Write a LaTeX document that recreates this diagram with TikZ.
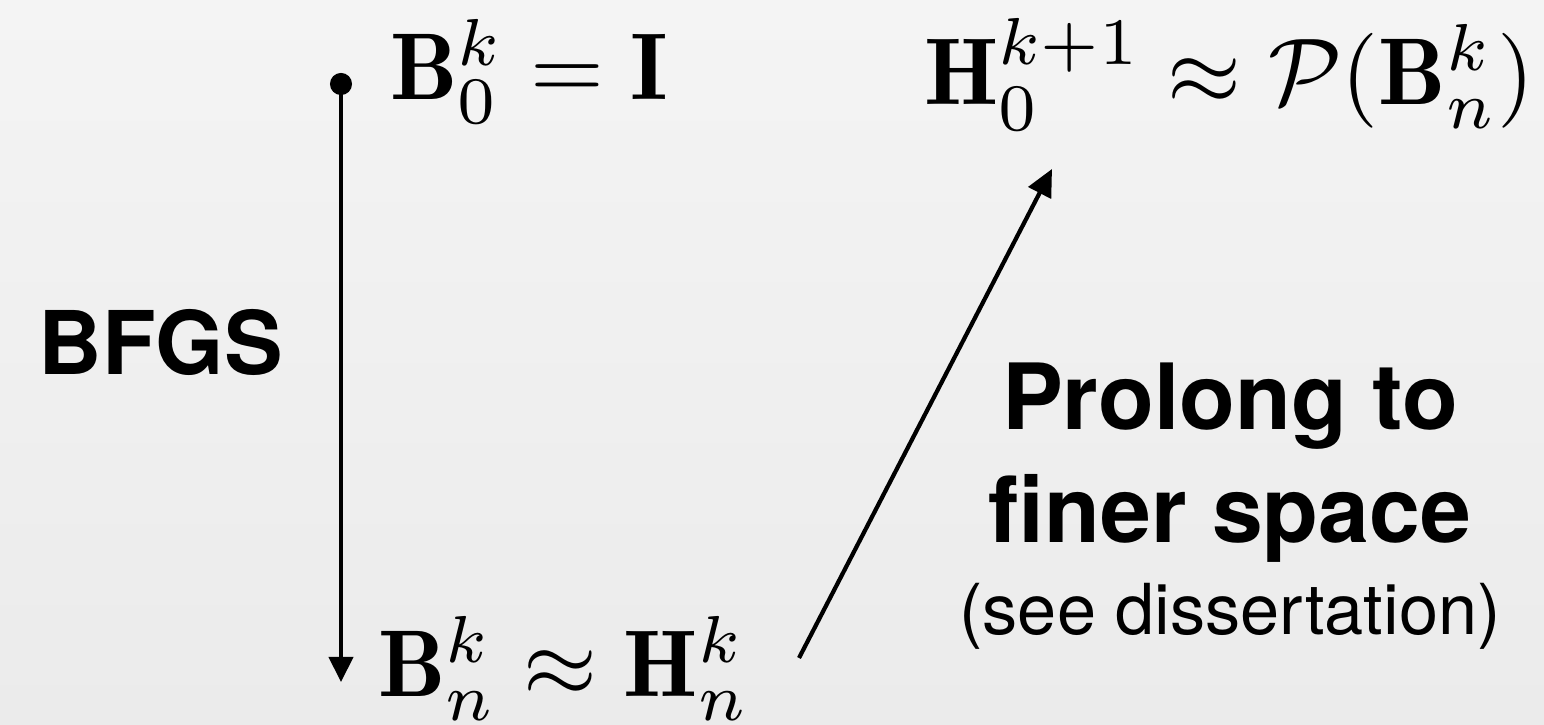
\documentclass[tikz,border=0pt]{standalone}
\usepackage{graphicx}
\usepackage{fontspec}
\setsansfont{TeX Gyre Heros}
\usetikzlibrary{arrows.meta}
\definecolor{bgtop}{HTML}{F4F4F4}
\definecolor{bgbot}{HTML}{EBEBEB}
\definecolor{ink}{HTML}{000000}
\newcommand{\bigmath}[1]{\scalebox{2.7}{$#1$}}

\begin{document}
\begin{tikzpicture}[line width=1.2pt,
  mathlbl/.style={anchor=base west,inner sep=0pt},
  boldlbl/.style={anchor=base,inner sep=0pt,font=\sffamily\bfseries\fontsize{26}{30}\selectfont},
  notelbl/.style={anchor=base,inner sep=0pt,font=\sffamily\fontsize{20}{24}\selectfont}]
  \shade[top color=bgtop,bottom color=bgbot] (0,0) rectangle (15.44,7.25);
  \useasboundingbox (0,0) rectangle (15.44,7.25);
  % BFGS iterations on the coarse space
  \coordinate (start) at (3.41,6.52);
  \coordinate (stop) at (3.41,0.43);
  \draw[ink,{Circle[length=0.22cm]}-{Triangle[length=0.25cm,width=0.24cm]}] (start) -- (stop);
  \node[boldlbl,anchor=base east,font=\sffamily\bfseries\fontsize{25}{30}\selectfont] (bfgs) at (2.85,3.50){BFGS};
  \node[mathlbl] (binit) at (3.88,6.25){\bigmath{\mathbf{B}_0^k = \mathbf{I}}};
  \node[mathlbl] (bfinal) at (3.76,0.28){\bigmath{\mathbf{B}_n^k \approx \mathbf{H}_n^k}};
  % prolongation
  \node[mathlbl,anchor=base east] (hnext) at (15.37,6.20){\bigmath{\mathbf{H}_0^{k+1} \approx \mathcal{P}(\mathbf{B}_n^k)}};
  \coordinate (pfrom) at (7.99,0.67);
  \coordinate (pto) at (10.52,5.56);
  \draw[ink,-{Triangle[length=0.27cm,width=0.25cm]}] (pfrom) -- (pto);
  \node[boldlbl] (prolong) at (12.30,2.95){Prolong to};
  \node[boldlbl] (finer) at (12.30,1.82){finer space};
  \node[notelbl] (note) at (12.30,0.90){(see dissertation)};
\end{tikzpicture}
\end{document}
